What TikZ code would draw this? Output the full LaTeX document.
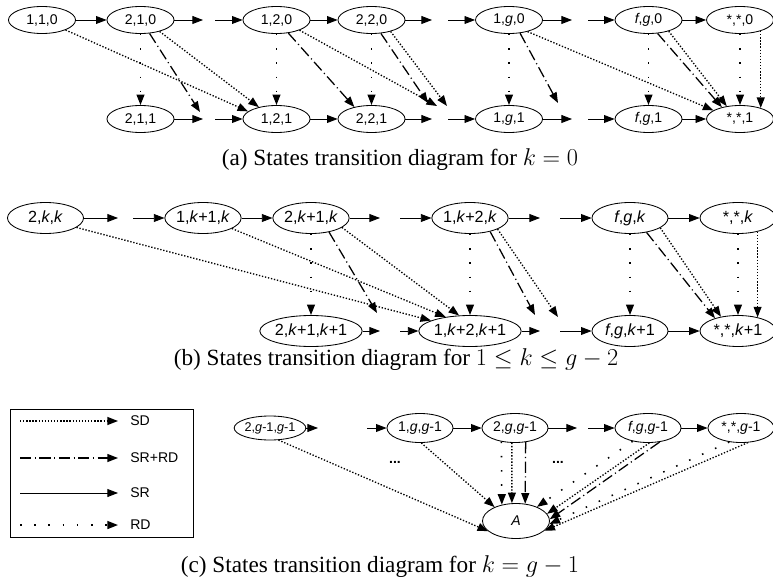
\documentclass[tikz,border=0pt]{standalone}
\usepackage[no-math]{fontspec}
\setmainfont{Liberation Serif}
\newfontfamily\nodefont{Liberation Sans}
\usetikzlibrary{arrows.meta,shapes.geometric}

\tikzset{
  stnode/.style={ellipse,draw,line width=0.6pt,inner sep=0pt,
    minimum width=1.675cm,minimum height=0.675cm,
    font=\nodefont\fontsize{10}{12}\selectfont},
  bignode/.style={stnode,minimum width=1.9cm,minimum height=0.775cm,
    font=\nodefont\fontsize{11.5}{13}\selectfont},
  lownode/.style={stnode,minimum width=1.65cm,minimum height=0.725cm},
  sr/.style={-{Triangle[length=7.5pt,width=5.6pt]},line width=0.6pt},
  sd/.style={sr,line width=0.95pt,dash pattern=on 0.95pt off 1.25pt},
  rd/.style={sr,line width=1.1pt,dash pattern=on 1.1pt off 9pt},
  srrd/.style={sr,line width=0.9pt,dash pattern=on 8pt off 2.5pt on 0.8pt off 2.5pt},
  capt/.style={font=\fontsize{16.5}{19}\selectfont},
}

\begin{document}
\begin{tikzpicture}[x=0.025cm,y=-0.025cm]
\useasboundingbox (0,0) rectangle (773,583);
% ---------- (a) k = 0: two rows ----------
\node[stnode] (a110) at (42,20) {1,1,0};
\node[stnode] (a210) at (140.5,20) {2,1,0};
\node[stnode] (a120) at (276.5,20) {1,2,0};
\node[stnode] (a220) at (371.5,20) {2,2,0};
\node[stnode] (a1g0) at (509,20) {1,\textit{g},0};
\node[stnode] (afg0) at (648.5,20) {\textit{f},\textit{g},0};
\node[stnode] (ass0) at (740,20) {*,*,0};
\node[stnode] (a211) at (140.5,119) {2,1,1};
\node[stnode] (a121) at (276.5,119) {1,2,1};
\node[stnode] (a221) at (371.5,119) {2,2,1};
\node[stnode] (a1g1) at (509,119) {1,\textit{g},1};
\node[stnode] (afg1) at (648.5,119) {\textit{f},\textit{g},1};
\node[stnode] (ass1) at (740,119) {*,*,1};
% gaps for the states left out
\foreach \n/\xe/\xs in {1/203/215,2/432/448,3/572/588}{
  \coordinate (ate\n) at (\xe,20);  \coordinate (ats\n) at (\xs,20);
  \coordinate (abe\n) at (\xe,119); \coordinate (abs\n) at (\xs,119);}
\coordinate (fa1) at (200,112);
\coordinate (fa2) at (428,103);
\coordinate (fa3) at (437,106);
\coordinate (fa4) at (447,106);
\coordinate (fa5) at (558,103);
\draw[sr] (a110) -- (a210);
\draw[sr] (a210) -- (ate1);
\draw[sr] (ats1) -- (a120);
\draw[sr] (a120) -- (a220);
\draw[sr] (a220) -- (ate2);
\draw[sr] (ats2) -- (a1g0);
\draw[sr] (a1g0) -- (ate3);
\draw[sr] (ats3) -- (afg0);
\draw[sr] (afg0) -- (ass0);
\draw[sr] (a211) -- (abe1);
\draw[sr] (abs1) -- (a121);
\draw[sr] (a121) -- (a221);
\draw[sr] (a221) -- (abe2);
\draw[sr] (abs2) -- (a1g1);
\draw[sr] (a1g1) -- (abe3);
\draw[sr] (abs3) -- (afg1);
\draw[sr] (afg1) -- (ass1);
\draw[sd] (a110.-23) -- (a121.165);
\draw[rd] (a210) -- (a211);
\draw[srrd] (a210.-56) -- (fa1);
\draw[sd] (a210.-31) -- (a121.146);
\draw[rd] (a120) -- (a121);
\draw[srrd] (a120.-48) -- (a221.145);
\draw[sd] (a120.-24) -- (fa3);
\draw[rd] (a220) -- (a221);
\draw[srrd] (a220.-55) -- (fa2);
\draw[sd] (a220.-31) -- (fa4);
\draw[rd] (a1g0) -- (a1g1);
\draw[srrd] (a1g0.-50) -- (fa5);
\draw[sd] (a1g0.-32) -- (ass1.162);
\draw[rd] (afg0) -- (afg1);
\draw[srrd] (afg0.-56) -- (ass1.147);
\draw[sd] (afg0.-29) -- (ass1.136);
\draw[rd] (ass0) -- (ass1);
\draw[sd] (ass0.-28) -- (ass1.28);
\node[capt] (capa) at (400,160) {(a) States transition diagram for $k=0$};
% ---------- (b) 1 <= k <= g-2 ----------
\node[bignode] (b2kk) at (45.5,218) {2,\textit{k},\textit{k}};
\node[bignode] (b1k1k) at (203,218) {1,\textit{k}+1,\textit{k}};
\node[bignode] (b2k1k) at (311,218) {2,\textit{k}+1,\textit{k}};
\node[bignode] (b1k2k) at (470,218) {1,\textit{k}+2,\textit{k}};
\node[bignode] (bfgk) at (630,218) {\textit{f},\textit{g},\textit{k}};
\node[bignode] (bssk) at (738,218) {*,*,\textit{k}};
\node[bignode] (b2k1k1) at (311,331) {2,\textit{k}+1,\textit{k}+1};
\node[bignode] (b1k2k1) at (470,331) {1,\textit{k}+2,\textit{k}+1};
\node[bignode] (bfgk1) at (630,331) {\textit{f},\textit{g},\textit{k}+1};
\node[bignode] (bssk1) at (738,331) {*,*,\textit{k}+1};
\foreach \n/\xe/\xs in {1/118/133,2/380/400,3/540/560}{
  \coordinate (bte\n) at (\xe,218); \coordinate (bts\n) at (\xs,218);
  \coordinate (bbe\n) at (\xe,331); \coordinate (bbs\n) at (\xs,331);}
\coordinate (fb1) at (377,313);
\coordinate (fb2) at (535,315);
\coordinate (fb3) at (558,317);
\draw[sr] (b2kk) -- (bte1);
\draw[sr] (bts1) -- (b1k1k);
\draw[sr] (b1k1k) -- (b2k1k);
\draw[sr] (b2k1k) -- (bte2);
\draw[sr] (bts2) -- (b1k2k);
\draw[sr] (b1k2k) -- (bte3);
\draw[sr] (bts3) -- (bfgk);
\draw[sr] (bfgk) -- (bssk);
\draw[sr] (b2k1k1) -- (bbe2);
\draw[sr] (bbs2) -- (b1k2k1);
\draw[sr] (b1k2k1) -- (bbe3);
\draw[sr] (bbs3) -- (bfgk1);
\draw[sr] (bfgk1) -- (bssk1);
\draw[sd] (b2kk.-17) -- (b1k2k1.165);
\draw[sd] (b1k1k.-20) -- (b1k2k1.150);
\draw[rd] (b2k1k) -- (b2k1k1);
\draw[srrd] (b2k1k.-38) -- (fb1);
\draw[sd] (b2k1k.-17) -- (b1k2k1.125);
\draw[rd] (b1k2k) -- (b1k2k1);
\draw[srrd] (b1k2k.-34) -- (fb2);
\draw[sd] (b1k2k.-22) -- (fb3);
\draw[rd] (bfgk) -- (bfgk1);
\draw[srrd] (bfgk.-41) -- (bssk1.151);
\draw[sd] (bfgk.-18) -- (bssk1.140);
\draw[rd] (bssk) -- (bssk1);
\draw[sd] (bssk.-35) -- (bssk1.35);
\node[capt] (capb) at (396,360) {(b) States transition diagram for $1\le k\le g-2$};
% ---------- legend ----------
\draw[line width=0.7pt] (10,409) rectangle (193,537);
\foreach \y/\s/\t in {421/sd/SD,458/srrd/SR+RD,493/sr/SR,525/rd/RD}{
  \coordinate (l\s0) at (20,\y); \coordinate (l\s1) at (118,\y);
  \draw[\s] (l\s0) -- (l\s1);
  \node[anchor=west,inner sep=0pt,font=\nodefont\fontsize{10}{12}\selectfont] (l\s) at (130,\y) {\t};}
% ---------- (c) k = g-1 ----------
\node[lownode,minimum width=1.2cm,minimum height=0.6cm,
  font=\nodefont\fontsize{9}{10}\selectfont] (c2g1) at (270,428) {2,\textit{g}-1,\textit{g}-1};
\node[lownode] (c1g) at (420,428) {1,\textit{g},\textit{g}-1};
\node[lownode] (c2g) at (515,428) {2,\textit{g},\textit{g}-1};
\node[lownode] (cfg) at (648,428) {\textit{f},\textit{g},\textit{g}-1};
\node[lownode] (css) at (741,428) {*,*,\textit{g}-1};
\node[lownode,minimum width=1.675cm,minimum height=0.875cm] (cA) at (516,521) {\textit{A}};
\node[font=\nodefont\bfseries] (dots1) at (395,462) {...};
\node[font=\nodefont\bfseries] (dots2) at (558,462) {...};
\foreach \n/\xe/\xs in {1/318/367,2/577/588}{
  \coordinate (cte\n) at (\xe,428); \coordinate (cts\n) at (\xs,428);}
\draw[sr] (c2g1) -- (cte1);
\draw[sr] (cts1) -- (c1g);
\draw[sr] (c1g) -- (c2g);
\draw[sr] (c2g) -- (cte2);
\draw[sr] (cts2) -- (cfg);
\draw[sr] (cfg) -- (css);
\draw[sd] (c2g1.-55) -- (cA.200);
\draw[sd] (c1g.-85) -- (cA.147);
\draw[rd] (c2g.-135) -- (cA.131);
\draw[sd] (c2g.-102) -- (cA.103);
\draw[srrd] (c2g.-53) -- (cA.62);
\draw[rd] (cfg.-139) -- (cA.34);
\draw[sd] (cfg.-85) -- (cA.13);
\draw[srrd] (cfg.-50) -- (cA.3);
\draw[rd] (css.-130) -- (cA.-5);
\draw[sd] (css.-65) -- (cA.-19);
\node[capt] (capc) at (380,567) {(c) States transition diagram for $k=g-1$};
\end{tikzpicture}
\end{document}
